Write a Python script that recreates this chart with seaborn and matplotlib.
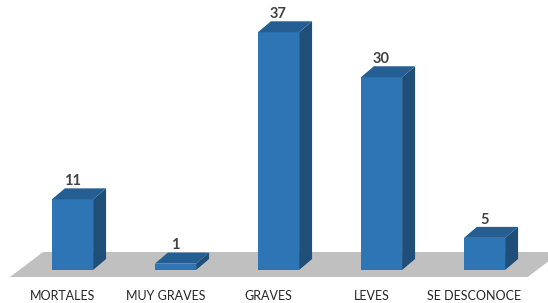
import matplotlib
matplotlib.use("Agg")
import matplotlib.pyplot as plt
import seaborn as sns
from matplotlib.patches import Polygon

categorias = ["MORTALES", "MUY GRAVES", "GRAVES", "LEVES", "SE DESCONOCE"]
valores = [11, 1, 37, 30, 5]

sns.set_theme(style="white")
plt.rcParams['font.family'] = ['Lato', 'DejaVu Sans']

fig = plt.figure(figsize=(5.48, 3.03), dpi=100)
ax = fig.add_axes([21 / 548, 33 / 303, 515 / 548, 257 / 303])
sns.barplot(x=categorias, y=valores, color="#2E75B6", width=0.4,
            saturation=1, ax=ax, zorder=3, linewidth=0)
ax.set_xlim(-0.5, 4.5)
ax.set_ylim(0, 40)
ax.axis("off")

# profundidad del efecto 3D (en unidades de datos)
dx, dy = 0.126, 1.71

# suelo gris
suelo = Polygon([(-0.607, -1.09), (4.42, -1.09), (4.74, 2.8), (-0.286, 2.8)],
                closed=True, facecolor="#C0C0C0", edgecolor="none",
                zorder=1, clip_on=False)
ax.add_patch(suelo)

for i, p in enumerate(list(ax.patches)[:len(valores)]):
    x0, w, h = p.get_x(), p.get_width(), p.get_height()
    lado = Polygon([(x0 + w, 0), (x0 + w + dx, dy), (x0 + w + dx, h + dy), (x0 + w, h)],
                   closed=True, facecolor="#1F4E79", edgecolor="none", zorder=3, clip_on=False)
    tapa = Polygon([(x0, h), (x0 + dx, h + dy), (x0 + w + dx, h + dy), (x0 + w, h)],
                   closed=True, facecolor="#255E93", edgecolor="none", zorder=3, clip_on=False)
    ax.add_patch(lado)
    ax.add_patch(tapa)
    ax.text(x0 + w / 2, h + dy + 0.05, str(valores[i]), ha="center", va="bottom",
            fontsize=10.5, fontweight="bold", color="#404040", clip_on=False)
    ax.text(x0 + w / 2 - 0.097, -4.04, categorias[i], ha="center", va="center",
            fontsize=9, color="#262626", clip_on=False)

fig.savefig("out.png", dpi=100)
